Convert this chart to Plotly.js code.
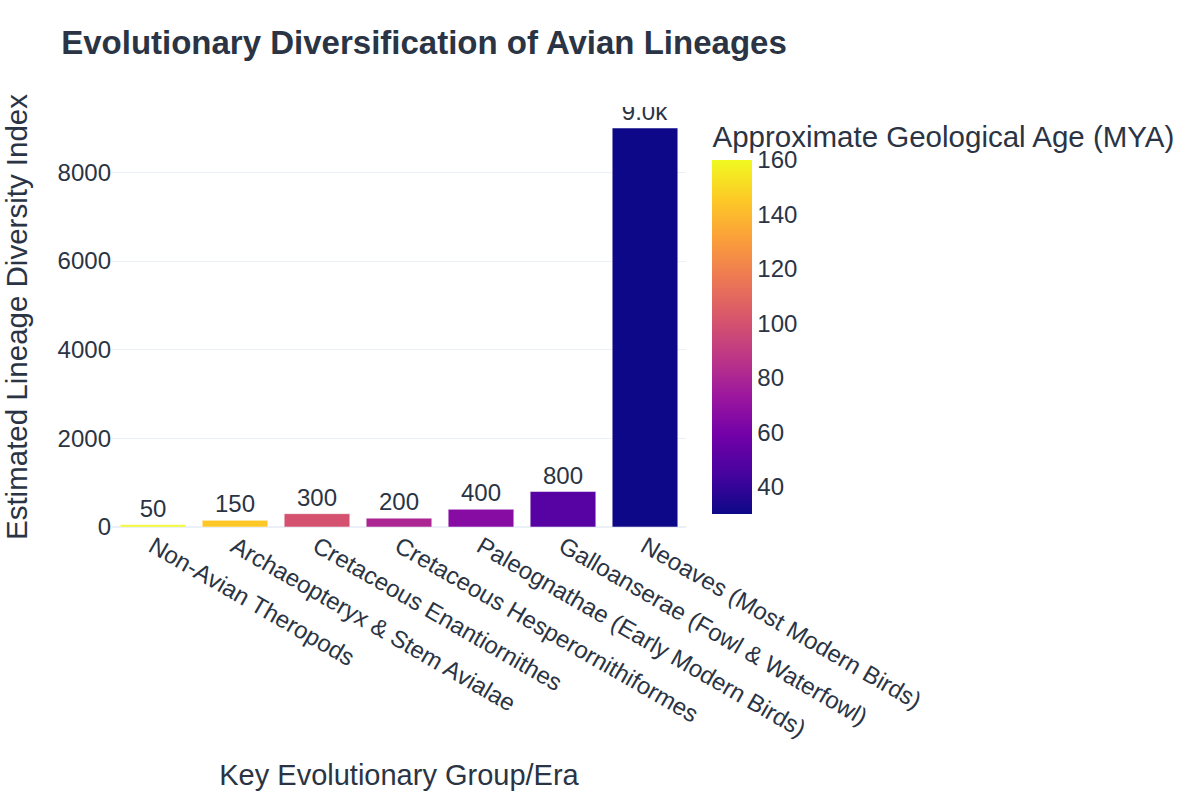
<!DOCTYPE html>
<html>
<head>
<meta charset="utf-8">
<script src="https://cdn.plot.ly/plotly-3.0.1.min.js"></script>
<style>html,body{margin:0;padding:0;background:#fff;}#chart{width:1200px;height:800px;}</style>
</head>
<body>
<div id="chart"></div>
<script>
const groups = [
  "Non-Avian Theropods",
  "Archaeopteryx & Stem Avialae",
  "Cretaceous Enantiornithes",
  "Cretaceous Hesperornithiformes",
  "Paleognathae (Early Modern Birds)",
  "Galloanserae (Fowl & Waterfowl)",
  "Neoaves (Most Modern Birds)"
];
const diversity = [50, 150, 300, 200, 400, 800, 9000];
const ageMYA = [160, 145, 100, 80, 66, 50, 30];

const plasma = [
  [0.0, "#0d0887"], [0.111, "#46039f"], [0.222, "#7201a8"], [0.333, "#9c179e"],
  [0.444, "#bd3786"], [0.556, "#d8576b"], [0.667, "#ed7953"], [0.778, "#fb9f3a"],
  [0.889, "#fdca26"], [1.0, "#f0f921"]
];

const FONT = "Arial, 'Liberation Sans', sans-serif";
const INK = "#2a3444";

const trace = {
  type: "bar",
  x: groups,
  y: diversity,
  marker: {
    color: ageMYA,
    colorscale: plasma,
    cmin: 30,
    cmax: 160,
    line: {color: "#ffffff", width: 0.5},
    colorbar: {
      title: {text: "Approximate Geological Age (MYA)", side: "top", font: {size: 29.5, color: INK, family: FONT}},
      thickness: 40,
      outlinewidth: 0,
      xpad: 15,
      ypad: 0,
      len: 0.933,
      y: 0.4976,
      yanchor: "middle",
      tickfont: {size: 24, color: INK, family: FONT},
      ticks: "",
      dtick: 20
    }
  },
  texttemplate: "%{y:.2s}",
  textposition: "outside",
  textfont: {size: 24, color: INK, family: FONT}
};

const layout = {
  width: 1200,
  height: 800,
  paper_bgcolor: "#fff",
  plot_bgcolor: "#fff",
  font: {family: FONT, color: INK, size: 24},
  title: {text: "<b>Evolutionary Diversification of Avian Lineages</b>", x: 0.051, xanchor: "left", y: 0.947, yanchor: "middle", font: {size: 33, color: INK, family: FONT}},
  margin: {l: 112, r: 514, t: 107, b: 273, autoexpand: false},
  bargap: 0.2,
  xaxis: {
    title: {text: "Key Evolutionary Group/Era", font: {size: 29, color: INK, family: FONT}, standoff: 23},
    tickangle: 30,
    tickfont: {size: 24, color: INK, family: FONT},
    showgrid: false,
    automargin: false
  },
  yaxis: {
    title: {text: "Estimated Lineage Diversity Index", font: {size: 29.5, color: INK, family: FONT}, standoff: 26},
    tickfont: {size: 24, color: INK, family: FONT},
    gridcolor: "#EBF0F8",
    zerolinecolor: "#EBF0F8",
    zerolinewidth: 2,
    dtick: 2000,
    automargin: false
  }
};

Plotly.newPlot("chart", [trace], layout, {displayModeBar: false});
</script>
</body>
</html>
